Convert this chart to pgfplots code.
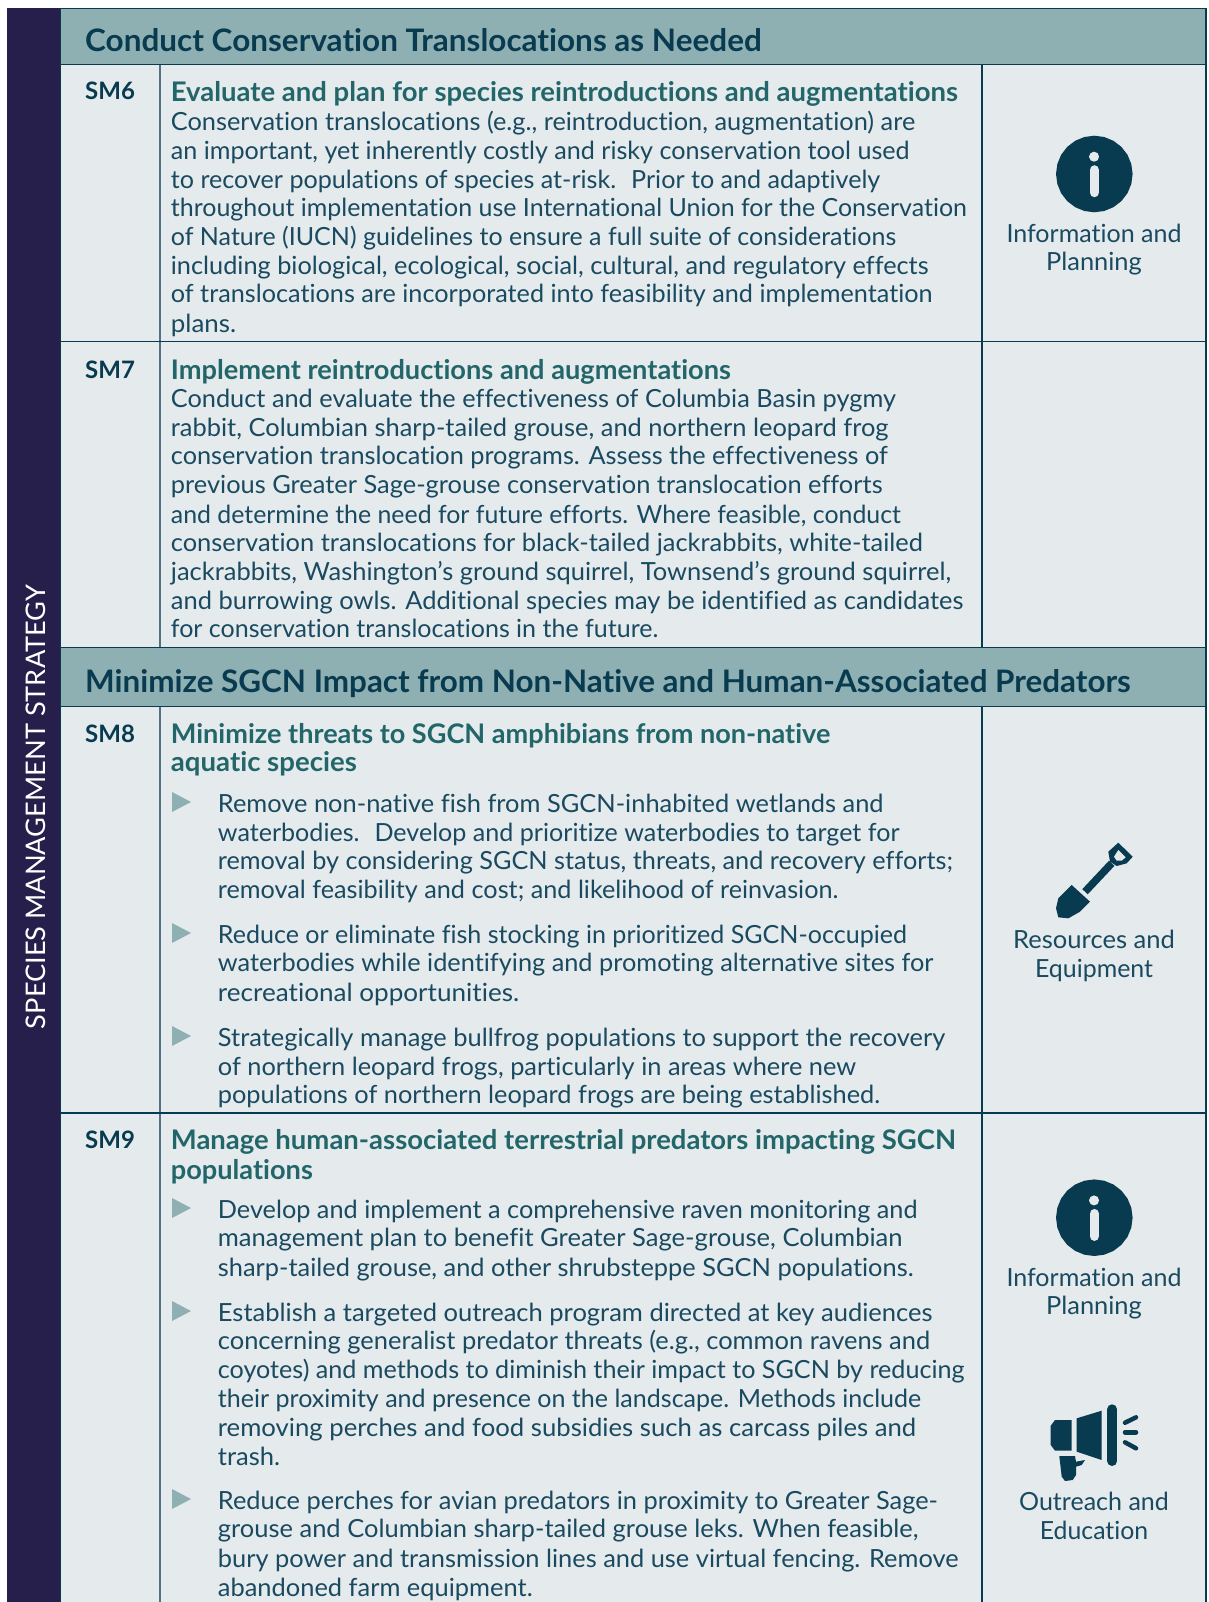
\documentclass[border=0pt]{standalone}
\usepackage{graphicx}
\usepackage{pgfplots}
\pgfplotsset{compat=1.18}
\usepackage{fontspec}
\setmainfont{Lato}[Ligatures={NoCommon,NoRequired,NoContextual}]
\definecolor{side}{HTML}{271F4B}
\definecolor{head}{HTML}{8FB0B3}
\definecolor{cellbg}{HTML}{E5EAED}
\definecolor{dark}{HTML}{083A50}
\definecolor{txt}{HTML}{1A4A60}
\definecolor{titlegreen}{HTML}{22666A}
\definecolor{rule}{HTML}{4F7286}
\newcommand{\fitto}[3]{\pgfmathparse{#2-#1}\resizebox{\pgfmathresult pt}{\height}{#3}}
\newcommand{\bodyfont}{\fontsize{25}{29}\selectfont}
% x, baseline y, right edge, text
\newcommand{\tl}[4]{\node[anchor=base west,yshift=-1pt,inner sep=0pt,text=txt,font=\bodyfont] at (axis cs:#1,#2) {\fitto{#1}{#3}{#4}};}
\newcommand{\ti}[4]{\node[anchor=base west,yshift=-1pt,inner sep=0pt,text=titlegreen,font=\fontsize{27}{29}\selectfont\bfseries] at (axis cs:#1,#2) {\fitto{#1}{#3}{#4}};}
\newcommand{\sm}[2]{\node[anchor=base west,yshift=-1pt,inner sep=0pt,text=dark,font=\fontsize{24}{29}\selectfont\bfseries] at (axis cs:85,#1) {#2};}
\newcommand{\hd}[3]{\node[anchor=base west,yshift=-1pt,inner sep=0pt,text=dark,font=\fontsize{31}{34}\selectfont\bfseries] at (axis cs:85,#1) {\fitto{85}{#2}{#3}};}
\newcommand{\ic}[3]{\node[anchor=base,yshift=-0.5pt,inner sep=0pt,text=txt,font=\bodyfont] at (axis cs:1094,#1) {\resizebox{#2pt}{\height}{#3}};}
\begin{document}
\begin{tikzpicture}
\begin{axis}[
  scale only axis, width=1208pt, height=1602pt,
  xmin=0, xmax=1208, ymin=0, ymax=1602, y dir=reverse,
  hide axis, clip=true]
% backgrounds
\addplot[fill=white,draw=none] coordinates {(0,0)(1208,0)(1208,1602)(0,1602)} --cycle;
\addplot[fill=side,draw=none] coordinates {(7,8.5)(60,8.5)(60,1602)(7,1602)} --cycle;
\addplot[fill=cellbg,draw=none] coordinates {(60,8.5)(1206,8.5)(1206,1602)(60,1602)} --cycle;
\addplot[fill=head,draw=none] coordinates {(60,8.5)(1206,8.5)(1206,64.5)(60,64.5)} --cycle;
\addplot[fill=head,draw=none] coordinates {(60,647.5)(1206,647.5)(1206,706.5)(60,706.5)} --cycle;
% rules
\addplot[rule,line width=1.6pt] coordinates {(160,64.5)(160,647.5)};
\addplot[rule,line width=1.6pt] coordinates {(160,706.5)(160,1602)};
\addplot[dark,line width=1.3pt] coordinates {(982,64.5)(982,647.5)};
\addplot[dark,line width=1.3pt] coordinates {(982,706.5)(982,1602)};
\addplot[dark,line width=1.3pt] coordinates {(60.5,8.5)(60.5,1602)};
\addplot[dark,line width=1.3pt] coordinates {(60,8.5)(1206,8.5)};
\addplot[dark,line width=1.3pt] coordinates {(1206,8.5)(1206,1602)};
\addplot[dark,line width=1.3pt] coordinates {(60,64.5)(1206,64.5)};
\addplot[dark,line width=1.3pt] coordinates {(60,341.5)(1206,341.5)};
\addplot[dark,line width=1.3pt] coordinates {(60,647.5)(1206,647.5)};
\addplot[dark,line width=1.3pt] coordinates {(60,706.5)(1206,706.5)};
\addplot[dark,line width=1.3pt] coordinates {(60,1113)(1206,1113)};
% sidebar
\node[rotate=90,text=white,inner sep=0pt,font=\fontsize{27}{29}\selectfont] at (axis cs:36,807) {\resizebox{444pt}{\height}{SPECIES MANAGEMENT STRATEGY}};
% headers
\hd{50.7}{761.4}{Conduct Conservation Translocations as Needed}
\hd{691.7}{1130.3}{Minimize SGCN Impact from Non-Native and Human-Associated Predators}
% SM6
\sm{99}{SM6}
\ti{170.7}{100.7}{957.7}{Evaluate and plan for species reintroductions and augmentations}
\tl{170.7}{130}{915}{Conservation translocations (e.g., reintroduction, augmentation) are}
\tl{170.7}{158.4}{909.3}{an important, yet inherently costly and risky conservation tool used}
\tl{170.7}{187.3}{880}{to recover populations of species at-risk.~ Prior to and adaptively}
\tl{170.7}{216}{966.7}{throughout implementation use International Union for the Conservation}
\tl{170.7}{245}{896}{of Nature (IUCN) guidelines to ensure a full suite of considerations}
\tl{170.7}{274}{928.3}{including biological, ecological, social, cultural, and regulatory effects}
\tl{170.7}{302}{932.3}{of translocations are incorporated into feasibility and implementation}
\tl{170.7}{331.3}{236}{plans.}
% SM7
\sm{377}{SM7}
\ti{170.7}{378}{730.7}{Implement reintroductions and augmentations}
\tl{170.7}{406.6}{895.7}{Conduct and evaluate the effectiveness of Columbia Basin pygmy}
\tl{170.7}{435.3}{888.3}{rabbit, Columbian sharp-tailed grouse, and northern leopard frog}
\tl{170.7}{463.9}{887.7}{conservation translocation programs. Assess the effectiveness of}
\tl{170.7}{492.4}{882.3}{previous Greater Sage-grouse conservation translocation efforts}
\tl{170.7}{522}{900.7}{and determine the need for future efforts. Where feasible, conduct}
\tl{170.7}{550.7}{922.7}{conservation translocations for black-tailed jackrabbits, white-tailed}
\tl{170.7}{579.3}{951}{jackrabbits, Washington’s ground squirrel, Townsend’s ground squirrel,}
\tl{170.7}{608}{963.3}{and burrowing owls. Additional species may be identified as candidates}
\tl{170.7}{636.5}{658.2}{for conservation translocations in the future.}
% SM8
\sm{741}{SM8}
\ti{170.7}{742.7}{830}{Minimize threats to SGCN amphibians from non-native}
\ti{170.7}{770.4}{356.7}{aquatic species}
\addplot[fill=head,draw=none] coordinates {(172,792)(191,802)(172,812)} --cycle;
\tl{217.7}{811.3}{883.3}{Remove non-native fish from SGCN-inhabited wetlands and}
\tl{217.7}{840}{899.3}{waterbodies.~ Develop and prioritize waterbodies to target for}
\tl{217.7}{868.5}{952.7}{removal by considering SGCN status, threats, and recovery efforts;}
\tl{217.7}{897}{838.3}{removal feasibility and cost; and likelihood of reinvasion.}
\addplot[fill=head,draw=none] coordinates {(172,923)(191,933)(172,943)} --cycle;
\tl{217.7}{942}{906.7}{Reduce or eliminate fish stocking in prioritized SGCN-occupied}
\tl{217.7}{970.7}{933.3}{waterbodies while identifying and promoting alternative sites for}
\tl{217.7}{1000.4}{519}{recreational opportunities.}
\addplot[fill=head,draw=none] coordinates {(172,1026)(191,1036)(172,1046)} --cycle;
\tl{217.7}{1045.3}{945}{Strategically manage bullfrog populations to support the recovery}
\tl{217.7}{1074}{856}{of northern leopard frogs, particularly in areas where new}
\tl{217.7}{1102.5}{880}{populations of northern leopard frogs are being established.}
% SM9
\sm{1147}{SM9}
\ti{170.7}{1148.5}{955.7}{Manage human-associated terrestrial predators impacting SGCN}
\ti{170.7}{1178}{312.7}{populations}
\addplot[fill=head,draw=none] coordinates {(172,1198)(191,1208)(172,1218)} --cycle;
\tl{217.7}{1217}{917.3}{Develop and implement a comprehensive raven monitoring and}
\tl{217.7}{1245.6}{902.3}{management plan to benefit Greater Sage-grouse, Columbian}
\tl{217.7}{1275.3}{913.3}{sharp-tailed grouse, and other shrubsteppe SGCN populations.}
\addplot[fill=head,draw=none] coordinates {(172,1301)(191,1311)(172,1321)} --cycle;
\tl{217.7}{1320}{932.3}{Establish a targeted outreach program directed at key audiences}
\tl{217.7}{1348.9}{930}{concerning generalist predator threats (e.g., common ravens and}
\tl{217.7}{1377.5}{964.3}{coyotes) and methods to diminish their impact to SGCN by reducing}
\tl{217.7}{1406}{921}{their proximity and presence on the landscape. Methods include}
\tl{217.7}{1435.7}{916}{removing perches and food subsidies such as carcass piles and}
\tl{217.7}{1464.4}{280}{trash.}
\addplot[fill=head,draw=none] coordinates {(172,1489)(191,1499)(172,1509)} --cycle;
\tl{217.7}{1508}{937.7}{Reduce perches for avian predators in proximity to Greater Sage-}
\tl{217.7}{1536.9}{918.3}{grouse and Columbian sharp-tailed grouse leks. When feasible,}
\tl{217.7}{1566.6}{958.3}{bury power and transmission lines and use virtual fencing. Remove}
\tl{217.7}{1595}{532.5}{abandoned farm equipment.}
% info icons
\addplot[fill=dark,draw=none] coordinates {(1132.6,174)(1131.3,183.9)(1127.5,193.15)(1121.4,201.1)(1113.45,207.2)(1104.2,211)(1094.3,212.3)(1084.4,211)(1075.15,207.2)(1067.2,201.1)(1061.1,193.15)(1057.3,183.9)(1056,174)(1057.3,164.1)(1061.1,154.85)(1067.2,146.9)(1075.15,140.8)(1084.4,137)(1094.3,135.7)(1104.2,137)(1113.45,140.8)(1121.4,146.9)(1127.5,154.85)(1131.3,164.1)} --cycle;
\addplot[color=cellbg,line width=9.5pt,line cap=round] coordinates {(1094.3,170)(1094.3,192.5)};
\addplot[color=cellbg,line width=9.8pt,line cap=round] coordinates {(1094.3,156.6)(1094.3,156.8)};
\ic{242}{175}{Information and}
\ic{269.6}{95.7}{Planning}
\addplot[fill=dark,draw=none] coordinates {(1132.6,1217.7)(1131.3,1227.6)(1127.5,1236.85)(1121.4,1244.8)(1113.45,1250.9)(1104.2,1254.7)(1094.3,1256)(1084.4,1254.7)(1075.15,1250.9)(1067.2,1244.8)(1061.1,1236.85)(1057.3,1227.6)(1056,1217.7)(1057.3,1207.8)(1061.1,1198.55)(1067.2,1190.6)(1075.15,1184.5)(1084.4,1180.7)(1094.3,1179.4)(1104.2,1180.7)(1113.45,1184.5)(1121.4,1190.6)(1127.5,1198.55)(1131.3,1207.8)} --cycle;
\addplot[color=cellbg,line width=9.5pt,line cap=round] coordinates {(1094.3,1213.7)(1094.3,1236.2)};
\addplot[color=cellbg,line width=9.8pt,line cap=round] coordinates {(1094.3,1200.3)(1094.3,1200.5)};
\ic{1285.5}{175}{Information and}
\ic{1314}{95.7}{Planning}
% shovel
\addplot[fill=dark,draw=none] coordinates {(1071.7,885)(1090,901.7)(1080,911.7)(1068.3,918.3)(1058.3,917.3)(1056,908.3)(1058.3,898.3)} --cycle;
\addplot[dark,line width=7.5pt] coordinates {(1085,891.7)(1111.7,863.3)};
\addplot[fill=dark,draw=none] coordinates {(1118.3,842.7)(1132.7,856.7)(1126.7,863.3)(1116.7,866)(1110,861.7)(1108.3,851.7)} --cycle;
\addplot[fill=cellbg,draw=none] coordinates {(1118.3,850)(1125.7,857.3)(1121.7,860.7)(1116.7,860.7)(1114,856.7)} --cycle;
\ic{947.7}{161.7}{Resources and}
\ic{976.9}{118}{Equipment}
% megaphone
\addplot[fill=dark,draw=none] coordinates {(1055,1420)(1071.7,1420)(1071.7,1450.7)(1055,1450.7)(1050.7,1445)(1050.7,1425.7)} --cycle;
\addplot[fill=dark,draw=none] coordinates {(1076.7,1418.3)(1101.7,1410.7)(1101.7,1460)(1076.7,1451.7)} --cycle;
\addplot[dark,line width=10pt,line cap=round] coordinates {(1112.3,1409.3)(1112.3,1461)};
\addplot[dark,line width=4.5pt,line cap=round] coordinates {(1125,1422.7)(1136,1417.3)};
\addplot[dark,line width=4.5pt,line cap=round] coordinates {(1125,1432.3)(1136,1432.3)};
\addplot[dark,line width=4.5pt,line cap=round] coordinates {(1125,1442.3)(1136,1448.3)};
\addplot[fill=dark,draw=none] coordinates {(1059.3,1456)(1075,1456)(1076,1461.7)(1085,1460)(1081.7,1465)(1076,1466.7)(1076,1475)(1072.7,1480)(1065,1481)(1061.7,1476.7)} --cycle;
\ic{1510}{149.7}{Outreach and}
\ic{1539}{108.3}{Education}
\end{axis}
\end{tikzpicture}
\end{document}
